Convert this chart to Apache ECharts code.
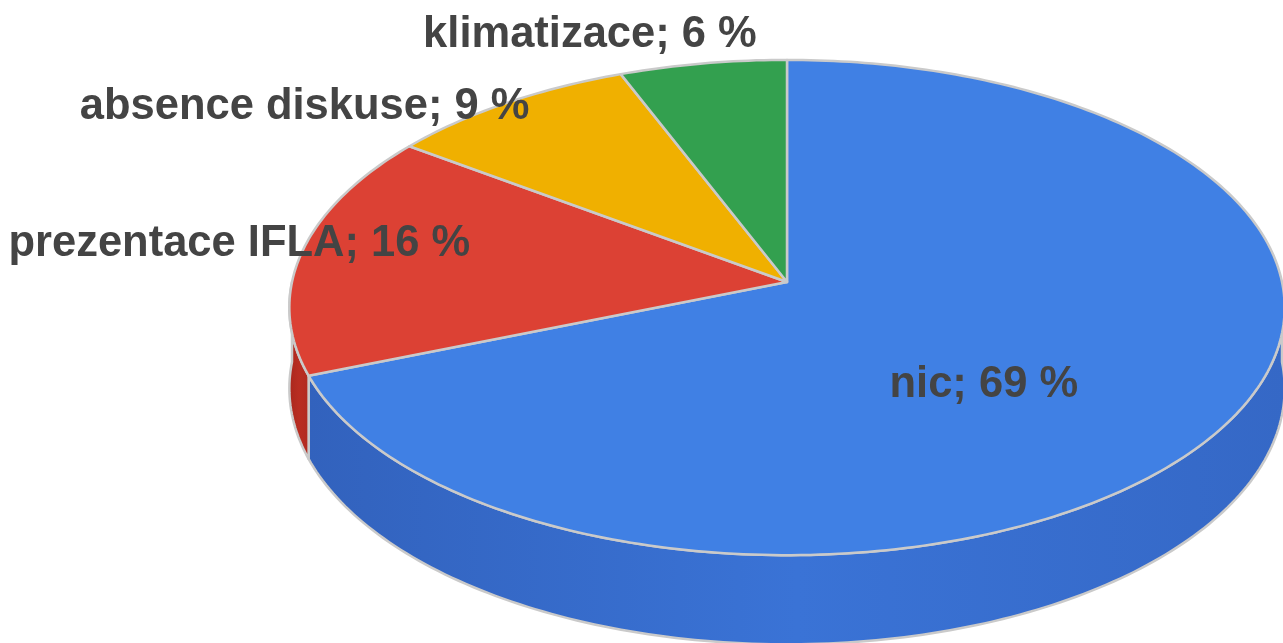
<!DOCTYPE html>
<html>
<head>
<meta charset="utf-8">
<script src="https://cdn.jsdelivr.net/npm/echarts@6/dist/echarts.min.js"></script>
<style>
  html, body { margin: 0; padding: 0; background: #fff; }
  #pie { width: 1283px; height: 643px; }
</style>
</head>
<body>
<div id="pie"></div>
<script>
// data
var categories = ['nic', 'prezentace IFLA', 'absence diskuse', 'klimatizace']
var shares = [69, 16, 9, 6]

// look
var topColors = ['#4080e4', '#dc4134', '#f0b000', '#33a04f']
var wallColors = [['#3262bd', '#3a73d6', '#3568c6'], ['#a8271d', '#b92d22', '#b02a20'],
  ['#c89200', '#d8a000', '#c89200'], ['#2a8442', '#2e9048', '#2a8442']]
// label placement: offset from slice anchor, align, radius of anchor
var labelLayout = [
  { r: 0.5, dx: -14, dy: 32, align: 'center' },
  { r: 1, dx: 168, dy: -8, align: 'right' },
  { r: 1, dx: 23, dy: 4, align: 'right' },
  { r: 1, dx: 54, dy: -28, align: 'right' }
]

var CX = 787, CY = 282, RX = 495, RY = 245, DEPTH = 9.7, THICK = 80
var EDGE = '#cacaca'

var total = shares.reduce(function (a, b) { return a + b }, 0)
var starts = []
var acc = 0
shares.forEach(function (v) { starts.push(acc); acc += v })

function project (theta, r, h) {
  var u = r * Math.sin(theta)
  var w = -r * Math.cos(theta)
  var f = DEPTH / (DEPTH - w)
  return [CX + RX * u * f, CY + (RY * w + h) * f]
}

function arc (a1, a2, h) {
  var pts = []
  var n = Math.max(2, Math.ceil((a2 - a1) / (Math.PI / 180)))
  for (var i = 0; i <= n; i++) {
    pts.push(project(a1 + (a2 - a1) * i / n, 1, h))
  }
  return pts
}

function renderItem (params, api) {
  var idx = params.dataIndex
  var value = api.value(0)
  var start = api.value(1)
  var a1 = start / total * Math.PI * 2
  var a2 = (start + value) / total * Math.PI * 2
  var children = []

  // front wall, only the part between 90 and 270 degrees faces the viewer
  var w1 = Math.max(a1, Math.PI / 2)
  var w2 = Math.min(a2, Math.PI * 1.5)
  if (w2 > w1) {
    var topArc = arc(w1, w2, 0)
    var botArc = arc(w1, w2, THICK).reverse()
    var wc = wallColors[idx]
    children.push({
      type: 'polygon',
      z2: 1,
      shape: { points: topArc.concat(botArc) },
      style: {
        fill: new echarts.graphic.LinearGradient(0, 0, 1, 0, [
          { offset: 0, color: wc[0] },
          { offset: 0.5, color: wc[1] },
          { offset: 1, color: wc[2] }
        ]),
        stroke: EDGE,
        lineWidth: 2.5,
        lineJoin: 'round'
      }
    })
  }

  // top face
  var pts = [project(0, 0, 0)].concat(arc(a1, a2, 0))
  children.push({
    type: 'polygon',
    z2: 2,
    shape: { points: pts },
    style: { fill: topColors[idx], stroke: EDGE, lineWidth: 2.5, lineJoin: 'round' }
  })

  // label
  var lay = labelLayout[idx]
  var mid = (a1 + a2) / 2
  var p = project(mid, lay.r, 0)
  children.push({
    type: 'text',
    z2: 5,
    x: p[0] + lay.dx,
    y: p[1] + lay.dy,
    style: {
      text: categories[idx] + '; ' + Math.round(value / total * 100) + ' %',
      font: 'bold 43.5px "Liberation Sans", Arial, sans-serif',
      fill: '#444444',
      align: lay.align,
      verticalAlign: 'middle'
    }
  })

  return { type: 'group', children: children }
}

var chart = echarts.init(document.getElementById('pie'))
chart.setOption({
  backgroundColor: '#ffffff',
  animation: false,
  series: [{
    type: 'custom',
    coordinateSystem: 'none',
    renderItem: renderItem,
    clip: false,
    data: shares.map(function (v, i) {
      return { name: categories[i], value: [v, starts[i]] }
    })
  }]
})
</script>
</body>
</html>
